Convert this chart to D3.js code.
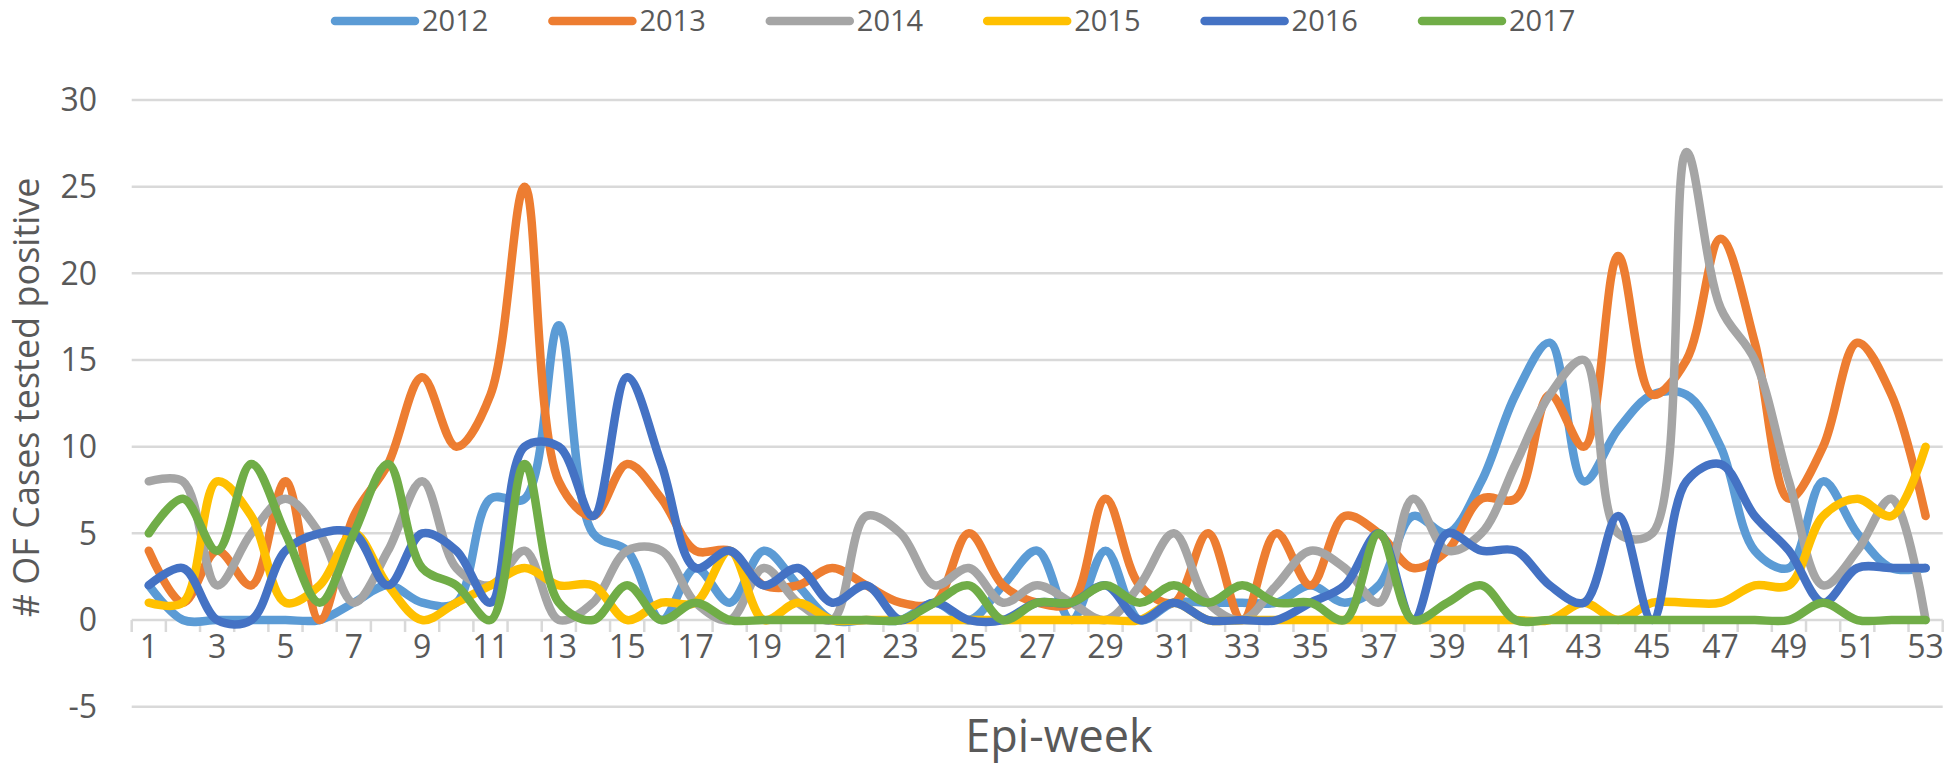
<!DOCTYPE html>
<html>
<head>
<meta charset="utf-8">
<script src="https://cdn.jsdelivr.net/npm/d3@7"></script>
<style>
  body { margin: 0; background: #fff; }
  text { font-family: "Open Sans", "Segoe UI", sans-serif; fill: #595959; }
</style>
</head>
<body>
<div id="chart"></div>
<script>
// Epi-weeks 1..53
const weeks = d3.range(1, 54);
const seriesNames = ["2012", "2013", "2014", "2015", "2016", "2017"];
const yTicks = [-5, 0, 5, 10, 15, 20, 25, 30];

const cases2012 = [2,0,0,0,0,0,1,2,1,1,7,7,17,5,4,0,3,1,4,2,0,0,0,1,0,2,4,0,4,0,1,1,1,1,2,1,2,6,5,8,13,16,8,11,13,13,10,4,3,8,5,3,3];
const cases2013 = [4,1,4,2,8,0,6,9,14,10,13,25,8,6,9,7,4,4,2,2,3,2,1,1,5,2,1,1,7,2,1,5,0,5,2,6,5,3,4,7,7,13,10,21,13,15,22,16,7,10,16,13,6];
const cases2014 = [8,8,2,5,7,5,1,4,8,3,2,4,0,1,4,4,1,0,3,1,0,6,5,2,3,1,2,1,0,2,5,1,0,2,4,3,1,7,4,5,9,13,15,5,5,27,18,15,8,2,4,7,0];
const cases2015 = [1,1,8,6,1,2,5,2,0,1,2,3,2,2,0,1,1,4,0,1,0,0,0,0,0,0,0,0,0,0,1,0,0,0,0,0,0,0,0,0,0,0,1,0,1,1,1,2,2,6,7,6,10];
const cases2016 = [2,3,0,0,4,5,5,2,5,4,1,10,10,6,14,9,3,4,2,3,1,2,0,1,0,0,1,1,2,0,1,0,0,0,1,2,5,0,5,4,4,2,1,6,0,8,9,6,4,1,3,3,3];
const cases2017 = [5,7,4,9,5,1,5,9,3,2,0,9,1,0,2,0,1,0,0,0,0,0,0,1,2,0,1,1,2,1,2,1,2,1,1,0,5,0,1,2,0,0,0,0,0,0,0,0,0,1,0,0,0];

const colors = ["#5B9BD5", "#ED7D31", "#A5A5A5", "#FFC000", "#4472C4", "#70AD47"];

const width = 1946, height = 764;
const margin = {top: 100, right: 3.3, bottom: 57.3, left: 131.7};

const svg = d3.select("#chart").append("svg")
    .attr("width", width)
    .attr("height", height);

const x = d3.scaleBand()
    .domain(weeks)
    .range([margin.left, width - margin.right])
    .padding(0);

const y = d3.scaleLinear()
    .domain([-5, 30])
    .range([height - margin.bottom, margin.top]);

// horizontal gridlines
svg.append("g").selectAll("line")
    .data(yTicks)
    .join("line")
    .attr("x1", margin.left)
    .attr("x2", width - margin.right)
    .attr("y1", d => y(d))
    .attr("y2", d => y(d))
    .attr("stroke", "#D9D9D9")
    .attr("stroke-width", 2.5);

// y axis labels
svg.append("g").selectAll("text")
    .data(yTicks)
    .join("text")
    .attr("x", 97)
    .attr("y", d => y(d))
    .attr("dy", "0.35em")
    .attr("text-anchor", "end")
    .style("font-size", "32px")
    .text(d => d);

// category tick marks at band edges, hanging below the zero line
const edges = weeks.map(w => x(w)).concat([x(53) + x.bandwidth()]);
svg.append("g").selectAll("line")
    .data(edges)
    .join("line")
    .attr("x1", d => d)
    .attr("x2", d => d)
    .attr("y1", y(0))
    .attr("y2", y(0) + 12)
    .attr("stroke", "#D9D9D9")
    .attr("stroke-width", 2.5);

// x labels every other week
svg.append("g").selectAll("text")
    .data(weeks.filter(w => w % 2 === 1))
    .join("text")
    .attr("x", w => x(w) + x.bandwidth() / 2)
    .attr("y", y(0) + 38)
    .attr("text-anchor", "middle")
    .style("font-size", "32px")
    .text(w => w);

// lines
const allSeries = [cases2012, cases2013, cases2014, cases2015, cases2016, cases2017];
const line = d3.line()
    .x((d, i) => x(weeks[i]) + x.bandwidth() / 2)
    .y(d => y(d))
    .curve(d3.curveCatmullRom.alpha(0.5));

svg.append("g").selectAll("path")
    .data(allSeries)
    .join("path")
    .attr("d", line)
    .attr("fill", "none")
    .attr("stroke", (d, i) => colors[i])
    .attr("stroke-width", 8.5)
    .attr("stroke-linecap", "round")
    .attr("stroke-linejoin", "round");

// axis titles
svg.append("text")
    .attr("transform", `translate(39, ${(y(-5) + y(30)) / 2 - 6}) rotate(-90)`)
    .attr("text-anchor", "middle")
    .style("font-size", "36px")
    .text("# OF Cases tested positive");

svg.append("text")
    .attr("x", 1059)
    .attr("y", 752)
    .attr("text-anchor", "middle")
    .style("font-size", "45px")
    .text("Epi-week");

// legend
const legend = svg.append("g").selectAll("g")
    .data(seriesNames)
    .join("g")
    .attr("transform", (d, i) => `translate(${335 + i * 217.4}, 21)`);

legend.append("line")
    .attr("x1", 0)
    .attr("x2", 80)
    .attr("stroke", (d, i) => colors[i])
    .attr("stroke-width", 8.5)
    .attr("stroke-linecap", "round");

legend.append("text")
    .attr("x", 87)
    .attr("dy", "0.35em")
    .style("font-size", "29px")
    .text(d => d);
</script>
</body>
</html>
